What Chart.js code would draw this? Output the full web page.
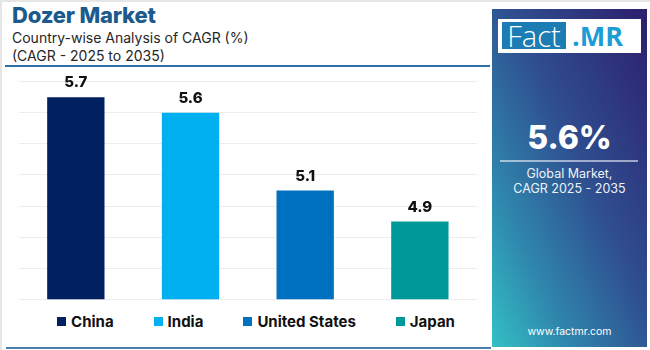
<!DOCTYPE html>
<html>
<head>
<meta charset="utf-8">
<script src="https://cdn.jsdelivr.net/npm/chart.js@4"></script>
<style>
  body { margin: 0; width: 650px; height: 350px; background: #fff; overflow: hidden; font-family: 'Inter', 'Noto Sans', sans-serif; }
  .frame { position: absolute; left: 0; top: 0; width: 648px; height: 348px; border-top: 2px solid #e6e6e6; border-left: 2px solid #e6e6e6; }
  .title { position: absolute; left: 12px; top: 2px; font-size: 22px; font-weight: 800; color: #1b5a8c; letter-spacing: -0.2px; }
  .sub { position: absolute; left: 12px; font-size: 14px; color: #262626; }
  .rule { position: absolute; left: 5px; top: 65px; width: 485px; height: 2px; background: #2f6fa8; }
  .rule2 { position: absolute; left: 6px; top: 347px; width: 485px; height: 2px; background: #4a7fb0; }
  #chartBox { position: absolute; left: 0; top: 68px; }
  .legend { position: absolute; left: 0; top: 312px; width: 512px; display: flex; justify-content: center; gap: 40px; font-size: 15px; font-weight: 700; color: #111; }
  .legend span.item { display: flex; align-items: center; }
  .legend i { display: inline-block; width: 9px; height: 9px; margin-right: 5px; }
  .panel { position: absolute; left: 492px; top: 9px; width: 155px; height: 338px;
    background: linear-gradient(to bottom left, #2d1f6d 0%, #2f4f90 45%, #2f86ad 75%, #33c0c4 100%); color: #fff; text-align: center; }
  .logo { position: absolute; left: 6px; top: 10px; width: 143px; height: 34px; background: #fff; }
  .fact { position: absolute; left: 4px; top: 3px; width: 64px; height: 27px; background: #1b7db3; color: #fff; font-family: 'Open Sans', sans-serif; font-weight: 300; font-size: 29px; line-height: 27px; text-align: center; }
  .mr { position: absolute; left: 74px; top: 0; font-family: 'Open Sans', sans-serif; font-weight: 700; font-size: 27px; line-height: 34px; color: #1d9cd6; }
  .big { position: absolute; left: 0; width: 155px; top: 109px; font-size: 32px; font-weight: 800; }
  .line { position: absolute; left: 8px; top: 151px; width: 138px; height: 2px; background: rgba(255,255,255,0.55); }
  .cap { position: absolute; left: 0; width: 155px; font-size: 12.5px; color: #eef3f8; }
  .url { position: absolute; left: 0; width: 155px; top: 316px; font-size: 10.5px; color: #fff; }
</style>
</head>
<body>
<div class="frame"></div>
<div class="title">Dozer Market</div>
<div class="sub" style="top:29px">Country-wise Analysis of CAGR (%)</div>
<div class="sub" style="top:47px">(CAGR - 2025 to 2035)</div>
<div class="rule"></div>
<div id="chartBox"><canvas id="cagrChart" width="490" height="242"></canvas></div>
<div class="legend" id="legend"></div>
<div class="rule2"></div>

<div class="panel">
  <div class="logo"><div class="fact">Fact</div><div class="mr">.MR</div></div>
  <div class="big">5.6%</div>
  <div class="line"></div>
  <div class="cap" style="top:157px">Global Market,</div>
  <div class="cap" style="top:172px">CAGR 2025 - 2035</div>
  <div class="url">www.factmr.com</div>
</div>

<script>
/* ── DADOS ── */
const countries = ['China', 'India', 'United States', 'Japan'];
const cagrValues = [5.7, 5.6, 5.1, 4.9];
const barColors = ['#002060', '#00b0f0', '#0070c0', '#009999'];
const axisMin = 4.4;
const axisMax = 5.8;
const axisStep = 0.2;

/* ── RÓTULOS SOBRE AS BARRAS ── */
const valueLabels = {
    id: 'valueLabels',
    afterDatasetsDraw(chart) {
        const { ctx } = chart;
        const meta = chart.getDatasetMeta(0);
        ctx.save();
        ctx.font = '800 15px Inter';
        ctx.fillStyle = '#111';
        ctx.textAlign = 'center';
        ctx.textBaseline = 'alphabetic';
        meta.data.forEach((bar, i) => {
            ctx.fillText(cagrValues[i].toFixed(1), bar.x, bar.y - 10);
        });
        ctx.restore();
    }
};

/* ── GRÁFICO ── */
const ctx = document.getElementById('cagrChart');

new Chart(ctx, {
    type: 'bar',
    data: {
        labels: countries,
        datasets: [{
            data: cagrValues,
            backgroundColor: barColors,
            barPercentage: 0.5,
            categoryPercentage: 1.0
        }]
    },
    options: {
        responsive: false,
        animation: false,
        layout: {
            padding: { top: 13.7, bottom: 10.7, left: 18.5, right: 12.8 }
        },
        plugins: {
            legend: { display: false },
            tooltip: { enabled: false }
        },
        scales: {
            x: { display: false },
            y: {
                min: axisMin,
                max: axisMax,
                ticks: { display: false, stepSize: axisStep },
                grid: { color: '#ececec', drawTicks: false },
                border: { display: false }
            }
        }
    },
    plugins: [valueLabels]
});

/* ── LEGENDA ── */
const legendEl = document.getElementById('legend');
countries.forEach((name, i) => {
    const item = document.createElement('span');
    item.className = 'item';
    item.innerHTML = '<i style="background:' + barColors[i] + '"></i>' + name;
    legendEl.appendChild(item);
});
</script>
</body>
</html>
